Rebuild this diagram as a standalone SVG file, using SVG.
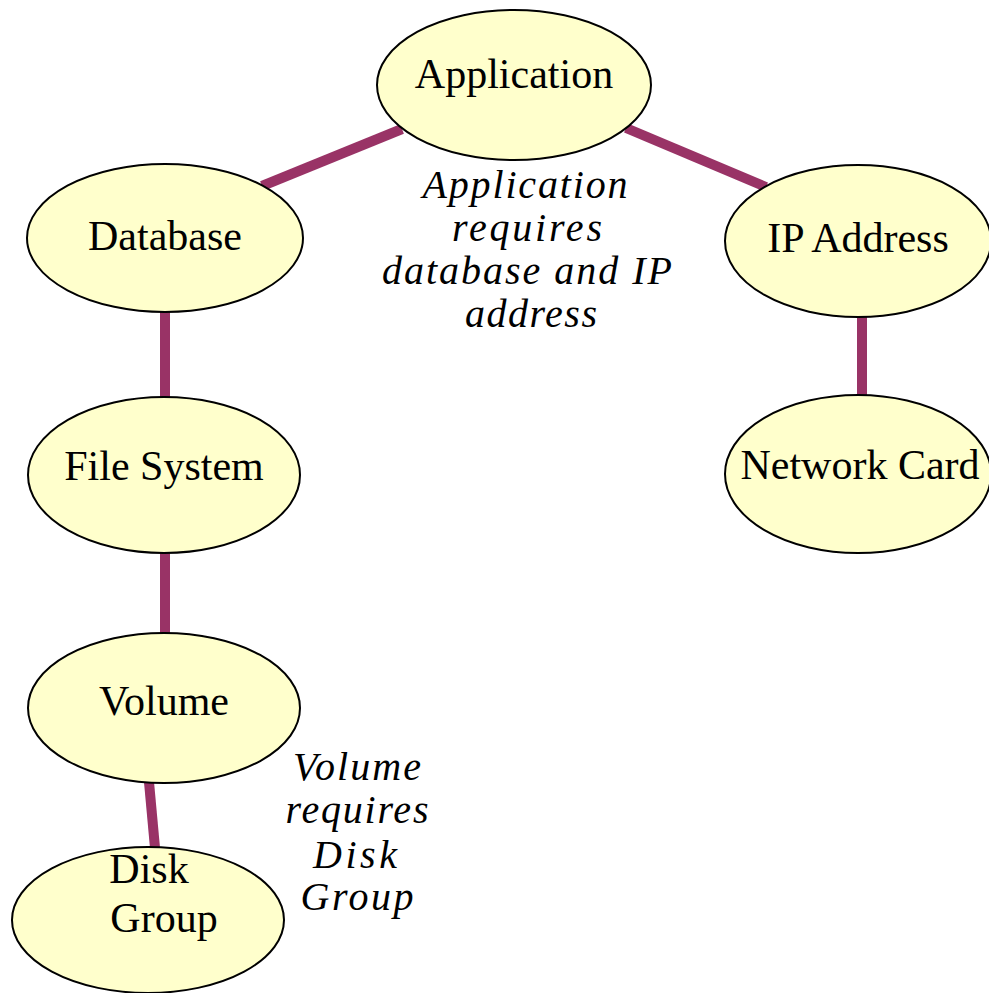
<svg xmlns="http://www.w3.org/2000/svg" width="989" height="993" viewBox="0 0 989 993">
  <style>
    .node ellipse { fill: #ffffcc; stroke: #000000; stroke-width: 2; }
    .node text { font-family: "Liberation Serif", "Times New Roman", serif; font-size: 42px; fill: #000000; text-anchor: middle; }
    .link { stroke: #993366; stroke-width: 10; fill: none; stroke-linecap: butt; }
    .note { font-family: "Liberation Serif", "Times New Roman", serif; font-style: italic; font-size: 40px; fill: #000000; text-anchor: middle; }
  </style>
  <rect width="989" height="993" fill="#ffffff"/>

  <!-- dependency links -->
  <g id="connectors">
    <line class="link" x1="262" y1="186" x2="402" y2="129"/>
    <line class="link" x1="626" y1="128" x2="766" y2="187"/>
    <line class="link" x1="165" y1="311" x2="165" y2="397"/>
    <line class="link" x1="165" y1="552" x2="165" y2="634"/>
    <line class="link" x1="862" y1="316" x2="862" y2="396"/>
    <line class="link" x1="149" y1="782" x2="155" y2="848"/>
  </g>

  <g id="application" class="node">
    <ellipse cx="514" cy="85" rx="137" ry="75"/>
    <text x="514" y="88">Application</text>
  </g>
  <g id="database" class="node">
    <ellipse cx="165" cy="238" rx="138" ry="74"/>
    <text x="165" y="250">Database</text>
  </g>
  <g id="ip-address" class="node">
    <ellipse cx="858" cy="241" rx="133" ry="76"/>
    <text x="858" y="252">IP Address</text>
  </g>
  <g id="network-card" class="node">
    <ellipse cx="858" cy="474" rx="133" ry="79"/>
    <text x="860" y="479">Network Card</text>
  </g>
  <g id="file-system" class="node">
    <ellipse cx="164" cy="475" rx="136" ry="78"/>
    <text x="164" y="480">File System</text>
  </g>
  <g id="volume" class="node">
    <ellipse cx="164" cy="708" rx="136" ry="75"/>
    <text x="164" y="715">Volume</text>
  </g>
  <g id="disk-group" class="node">
    <ellipse cx="148" cy="920" rx="136" ry="73"/>
    <text x="149" y="883">Disk</text>
    <text x="164" y="932">Group</text>
  </g>

  <!-- annotations -->
  <g id="note-application">
    <text class="note" x="525" y="198" textLength="205" lengthAdjust="spacing">Application</text>
    <text class="note" x="527" y="241" textLength="150" lengthAdjust="spacing">requires</text>
    <text class="note" x="527" y="284" textLength="290" lengthAdjust="spacing">database and IP</text>
    <text class="note" x="531" y="327" textLength="132" lengthAdjust="spacing">address</text>
  </g>
  <g id="note-volume">
    <text class="note" x="357" y="780" textLength="128" lengthAdjust="spacing">Volume</text>
    <text class="note" x="357" y="823" textLength="143" lengthAdjust="spacing">requires</text>
    <text class="note" x="355" y="868" textLength="84" lengthAdjust="spacing">Disk</text>
    <text class="note" x="357" y="910" textLength="113" lengthAdjust="spacing">Group</text>
  </g>
</svg>
